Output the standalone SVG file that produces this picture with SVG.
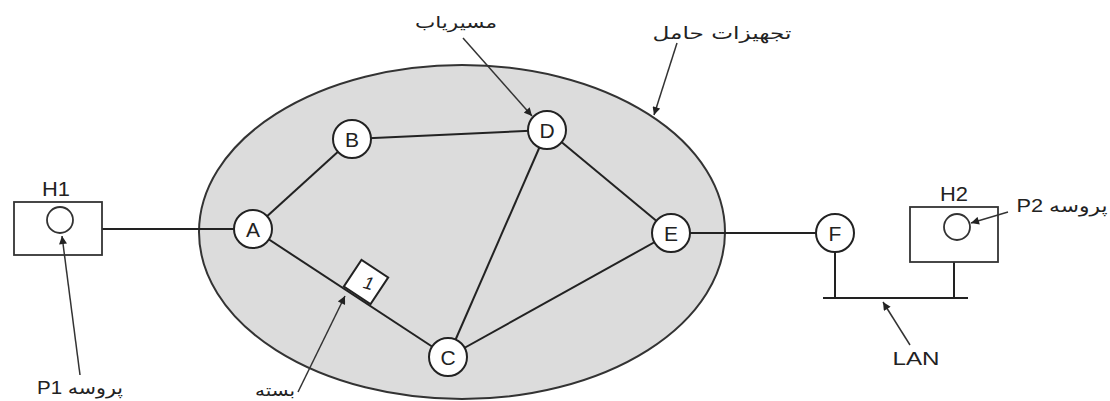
<svg xmlns="http://www.w3.org/2000/svg" width="1110" height="401" viewBox="0 0 1110 401">
  <style>
    .lbl { font-family: "Liberation Sans", "DejaVu Sans", Arial, sans-serif; fill: #222; }
    .fa { font-family: "DejaVu Sans", "Noto Sans", sans-serif; fill: #222; }
    .node circle { fill: #fff; stroke: #222; stroke-width: 2; }
    .node text { font-family: "Liberation Sans", Arial, sans-serif; font-size: 21px; fill: #222; text-anchor: middle; }
    .link { stroke: #222; stroke-width: 2; fill: none; }
    .ptr { stroke: #333; stroke-width: 1.5; fill: none; marker-end: url(#ah); }
    .box { fill: #fff; stroke: #333; stroke-width: 1.8; }
  </style>
  <defs>
    <marker id="ah" viewBox="0 0 10 10" refX="10" refY="5" markerWidth="9" markerHeight="8" markerUnits="userSpaceOnUse" orient="auto">
      <path d="M0,0 L10,5 L0,10 z" fill="#222"/>
    </marker>
  </defs>
  <rect width="1110" height="401" fill="#fff"/>

  <g id="carrier">
    <ellipse cx="462" cy="232" rx="263" ry="167" fill="#dcdcdc" stroke="#333" stroke-width="2"/>
  </g>

  <g id="connectors">
    <line class="link" x1="253" y1="229" x2="352" y2="139"/>
    <line class="link" x1="352" y1="139" x2="547" y2="130"/>
    <line class="link" x1="547" y1="130" x2="671" y2="233"/>
    <line class="link" x1="547" y1="130" x2="448" y2="357"/>
    <line class="link" x1="253" y1="229" x2="448" y2="357"/>
    <line class="link" x1="448" y1="357" x2="671" y2="233"/>
    <line class="link" x1="102" y1="229" x2="253" y2="229" stroke-width="3"/>
    <line class="link" x1="671" y1="233" x2="835" y2="233"/>
    <line class="link" x1="835" y1="233" x2="835" y2="298"/>
    <line class="link" x1="954" y1="262" x2="954" y2="298"/>
    <line class="link" x1="823" y1="298" x2="968" y2="298"/>
  </g>

  <g id="H1">
    <rect class="box" x="14" y="202" width="88" height="53"/>
    <circle cx="60" cy="220" r="13" fill="#fff" stroke="#333" stroke-width="1.8"/>
    <text class="lbl" x="56" y="196" font-size="20" text-anchor="middle" textLength="28" lengthAdjust="spacingAndGlyphs">H1</text>
  </g>
  <g id="H2">
    <rect class="box" x="910" y="207" width="88" height="55"/>
    <circle cx="957" cy="227" r="13" fill="#fff" stroke="#333" stroke-width="1.8"/>
    <text class="lbl" x="954" y="201" font-size="20" text-anchor="middle" textLength="28" lengthAdjust="spacingAndGlyphs">H2</text>
  </g>

  <g id="A" class="node"><circle cx="253" cy="229" r="19"/><text x="253" y="236.5">A</text></g>
  <g id="B" class="node"><circle cx="352" cy="139" r="19"/><text x="352" y="146.5">B</text></g>
  <g id="D" class="node"><circle cx="547" cy="130" r="19"/><text x="547" y="137.5">D</text></g>
  <g id="E" class="node"><circle cx="671" cy="233" r="19"/><text x="671" y="240.5">E</text></g>
  <g id="C" class="node"><circle cx="448" cy="357" r="19"/><text x="448" y="364.5">C</text></g>
  <g id="F" class="node"><circle cx="835" cy="233" r="19"/><text x="835" y="240.5">F</text></g>

  <g id="packet">
    <g transform="translate(366,282) rotate(33.5)">
      <rect x="-16" y="-16" width="32" height="32" fill="#fff" stroke="#222" stroke-width="2"/>
    </g>
    <text class="lbl" x="0" y="0" font-size="18" font-style="italic" text-anchor="middle" transform="translate(367,289) rotate(15)">1</text>
  </g>

  <g id="pointers">
    <line class="ptr" x1="80" y1="375" x2="62" y2="236"/>
    <line class="ptr" x1="298" y1="392" x2="345" y2="296"/>
    <line class="ptr" x1="463" y1="38" x2="532" y2="116"/>
    <line class="ptr" x1="677" y1="43" x2="654" y2="115"/>
    <line class="ptr" x1="1008" y1="212" x2="971" y2="223"/>
    <line class="ptr" x1="910" y1="345" x2="883" y2="302"/>
  </g>

  <g id="labels">
    <text class="lbl" x="80" y="394" font-size="18" direction="rtl" text-anchor="middle" textLength="86" lengthAdjust="spacingAndGlyphs">پروسه P1</text>
    <text class="lbl" x="1062" y="212" font-size="18" direction="rtl" text-anchor="middle" textLength="91" lengthAdjust="spacingAndGlyphs">پروسه P2</text>
    <text class="fa" x="275" y="396" font-size="16" direction="rtl" text-anchor="middle" textLength="40" lengthAdjust="spacingAndGlyphs">بسته</text>
    <text class="fa" x="456" y="28" font-size="16" direction="rtl" text-anchor="middle" textLength="82" lengthAdjust="spacingAndGlyphs">مسیریاب</text>
    <text class="fa" x="722" y="39" font-size="17" direction="rtl" text-anchor="middle" textLength="139" lengthAdjust="spacingAndGlyphs">تجهیزات حامل</text>
    <text class="lbl" x="916" y="365" font-size="19" text-anchor="middle" textLength="47" lengthAdjust="spacingAndGlyphs">LAN</text>
  </g>
</svg>
